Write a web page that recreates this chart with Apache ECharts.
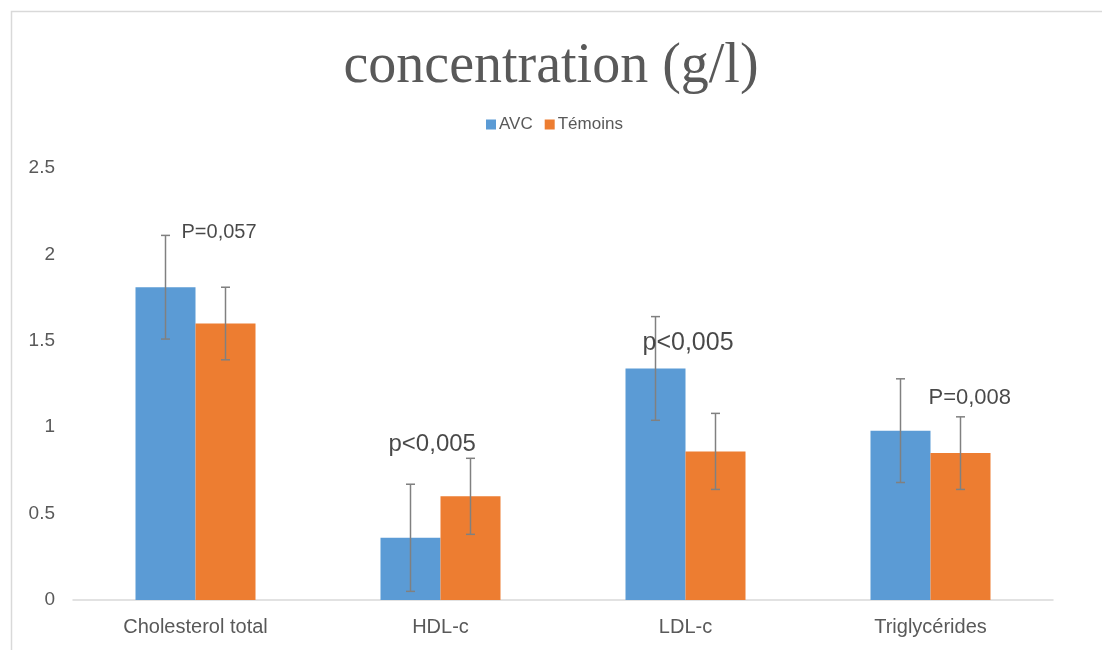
<!DOCTYPE html>
<html>
<head>
<meta charset="utf-8">
<script src="https://cdn.jsdelivr.net/npm/echarts@6/dist/echarts.min.js"></script>
<style>
  html, body { margin: 0; padding: 0; background: #fff; }
  #chart { width: 1102px; height: 650px; }
</style>
</head>
<body>
<div id="chart"></div>
<script>
// valeurs (g/l), moyenne ± écart-type
const categories = ["Cholesterol total", "HDL-c", "LDL-c", "Triglycérides"];
const avcMean = [1.81, 0.36, 1.34, 0.98];
const avcErr = [0.30, 0.31, 0.30, 0.30];
const temMean = [1.60, 0.60, 0.86, 0.85];
const temErr = [0.21, 0.22, 0.22, 0.21];
const yTicks = [0, 0.5, 1, 1.5, 2, 2.5];

// annotations p-value : texte, catégorie, hauteur (valeur y)
const pText = ["P=0,057", "p<0,005", "p<0,005", "P=0,008"];
const pCat = [0, 1, 2, 3];
const pY = [2.124, 0.90, 1.487, 1.169];
const pStyle = [
  { dx: -14, size: 20 },
  { dx: -52, size: 24 },
  { dx: -43, size: 25 },
  { dx: -2, size: 22 }
];

const BLUE = "#5B9BD5", ORANGE = "#ED7D31", GREY_TXT = "#595959";
const BAR_W = 60;

const errData = (mean, err) => mean.map((m, i) => [i, m - err[i], m + err[i]]);

// barre d'erreur : décalée de ±BAR_W/2 par rapport au centre de la catégorie
const errorSeries = (name, data, side) => ({
  type: "custom",
  name: name + "-err",
  silent: true,
  z: 5,
  encode: { x: 0, y: [1, 2] },
  data: data,
  renderItem: (params, api) => {
    const top = api.coord([api.value(0), api.value(2)]);
    const bot = api.coord([api.value(0), api.value(1)]);
    const x = top[0] + side * BAR_W / 2;
    const cap = 4.5;
    const st = { stroke: "#808080", lineWidth: 1.5 };
    return {
      type: "group",
      children: [
        { type: "line", shape: { x1: x, y1: top[1], x2: x, y2: bot[1] }, style: st },
        { type: "line", shape: { x1: x - cap, y1: top[1], x2: x + cap, y2: top[1] }, style: st },
        { type: "line", shape: { x1: x - cap, y1: bot[1], x2: x + cap, y2: bot[1] }, style: st }
      ]
    };
  }
});

const chart = echarts.init(document.getElementById("chart"), null, { renderer: "canvas" });

const option = {
  backgroundColor: "#fff",
  animation: false,
  textStyle: { fontFamily: "Liberation Sans" },
  graphic: [
    {
      type: "rect",
      shape: { x: 11.5, y: 11.5, width: 1200, height: 1000 },
      style: { fill: "none", stroke: "#d9d9d9", lineWidth: 1.5 },
      silent: true
    }
  ],
  title: {
    text: "concentration (g/l)",
    left: "center",
    top: 34,
    textStyle: { fontFamily: "Liberation Serif", fontSize: 56, fontWeight: "normal", color: GREY_TXT }
  },
  legend: {
    data: ["AVC", "Témoins"],
    left: 481,
    top: 111,
    icon: "rect",
    itemWidth: 10,
    itemHeight: 10,
    itemGap: 12,
    textStyle: { fontFamily: "Liberation Sans", fontSize: 17, color: GREY_TXT, padding: [0, 0, 0, -2] }
  },
  grid: { left: 73, right: 49, top: 168, bottom: 50, containLabel: false },
  xAxis: {
    type: "category",
    data: categories,
    axisLine: { lineStyle: { color: "#d9d9d9", width: 1.5 } },
    axisTick: { show: false },
    axisLabel: { fontFamily: "Liberation Sans", fontSize: 20, color: GREY_TXT, margin: 17 }
  },
  yAxis: {
    type: "value",
    min: yTicks[0],
    max: yTicks[yTicks.length - 1],
    interval: 0.5,
    axisLine: { show: false },
    axisTick: { show: false },
    splitLine: { show: false },
    axisLabel: { fontFamily: "Liberation Sans", fontSize: 19, color: GREY_TXT, margin: 18 }
  },
  series: [
    {
      type: "bar",
      name: "AVC",
      data: avcMean,
      barWidth: BAR_W,
      barGap: "0%",
      itemStyle: { color: BLUE }
    },
    {
      type: "bar",
      name: "Témoins",
      data: temMean,
      barWidth: BAR_W,
      barGap: "0%",
      itemStyle: { color: ORANGE }
    },
    errorSeries("AVC", errData(avcMean, avcErr), -1),
    errorSeries("Témoins", errData(temMean, temErr), 1),
    {
      type: "scatter",
      name: "p",
      symbolSize: 0,
      silent: true,
      z: 6,
      data: pText.map((t, i) => ({
        value: [pCat[i], pY[i]],
        label: {
          show: true,
          formatter: t,
          position: [pStyle[i].dx, 0],
          align: "left",
          verticalAlign: "middle",
          fontFamily: "Liberation Sans",
          fontSize: pStyle[i].size,
          color: "#1a1a1a"
        }
      }))
    }
  ]
};

chart.setOption(option);
</script>
</body>
</html>
